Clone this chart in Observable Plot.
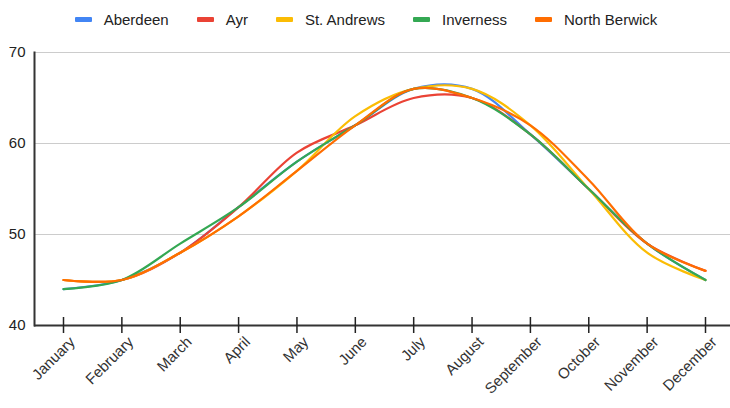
<!DOCTYPE html>
<html>
<head>
<meta charset="utf-8">
<script src="https://cdn.jsdelivr.net/npm/d3@7"></script>
<script src="https://cdn.jsdelivr.net/npm/@observablehq/plot@0.6"></script>
<style>
  body { margin: 0; background: #fff; font-family: "Liberation Sans", Arial, sans-serif; }
  #legend { height: 38px; display: flex; justify-content: center; align-items: center; font-size: 15px; color: #222; padding-left: 2px; box-sizing: border-box; }
  .item { display: flex; align-items: center; margin: 0 14px; }
  .sw { width: 17px; height: 5px; border-radius: 1px; margin-right: 12px; }
</style>
</head>
<body>
<div id="legend"></div>
<div id="chart"></div>
<script>
const months = ["January","February","March","April","May","June","July","August","September","October","November","December"];
const seriesNames = ["Aberdeen","Ayr","St. Andrews","Inverness","North Berwick"];
const colors = ["#4285F4","#EA4335","#FBBC04","#34A853","#FF6D01"];
const aberdeen     = [44, 45, 48, 53, 58, 62, 66, 66, 61, 55, 49, 45];
const ayr          = [45, 45, 48, 53, 59, 62, 65, 65, 61, 55, 49, 46];
const stAndrews    = [45, 45, 48, 52, 57, 63, 66, 66, 62, 55, 48, 45];
const inverness    = [44, 45, 49, 53, 58, 62, 66, 65, 61, 55, 49, 45];
const northBerwick = [45, 45, 48, 52, 57, 62, 66, 65, 62, 56, 49, 46];
const yTicks = [40, 50, 60, 70];

const allSeries = [aberdeen, ayr, stAndrews, inverness, northBerwick];
const rows = [];
allSeries.forEach((vals, s) => vals.forEach((v, i) => rows.push({series: seriesNames[s], m: i, v})));

const legend = document.getElementById("legend");
seriesNames.forEach((n, i) => {
  const it = document.createElement("div"); it.className = "item";
  const sw = document.createElement("span"); sw.className = "sw"; sw.style.background = colors[i];
  const t = document.createElement("span"); t.textContent = n;
  it.appendChild(sw); it.appendChild(t); legend.appendChild(it);
});

const chart = Plot.plot({
  width: 730,
  height: 370,
  marginLeft: 34,
  marginRight: 0,
  marginTop: 14,
  marginBottom: 83,
  style: {fontFamily: "'Liberation Sans', Arial, sans-serif", fontSize: "15px", color: "#222", background: "#fff"},
  x: {domain: [0, 11], range: [63, 705]},
  y: {domain: [40, 70]},
  color: {domain: seriesNames, range: colors},
  marks: [
    Plot.gridY(yTicks, {stroke: "#ccc", strokeOpacity: 1, strokeWidth: 1}),
    Plot.axisY(yTicks, {tickSize: 0, tickPadding: 9, label: null, fontSize: 15, fill: "#222"}),
    Plot.line(rows, {x: "m", y: "v", z: "series", stroke: "series", strokeWidth: 2.2, curve: "catmull-rom"}),
    Plot.frame({anchor: "left", stroke: "#333", strokeWidth: 2}),
    Plot.ruleY([40], {stroke: "#333", strokeWidth: 2}),
    Plot.axisX(d3.range(12), {tickSize: 16, dy: -8, text: null, stroke: "#222", strokeWidth: 1.5, label: null}),
    Plot.axisX(d3.range(12), {tickSize: 0, tickPadding: 14, tickRotate: -45, tickFormat: i => months[i], label: null, fontSize: 15, fill: "#333", dx: 9})
  ]
});
document.getElementById("chart").appendChild(chart);
</script>
</body>
</html>
